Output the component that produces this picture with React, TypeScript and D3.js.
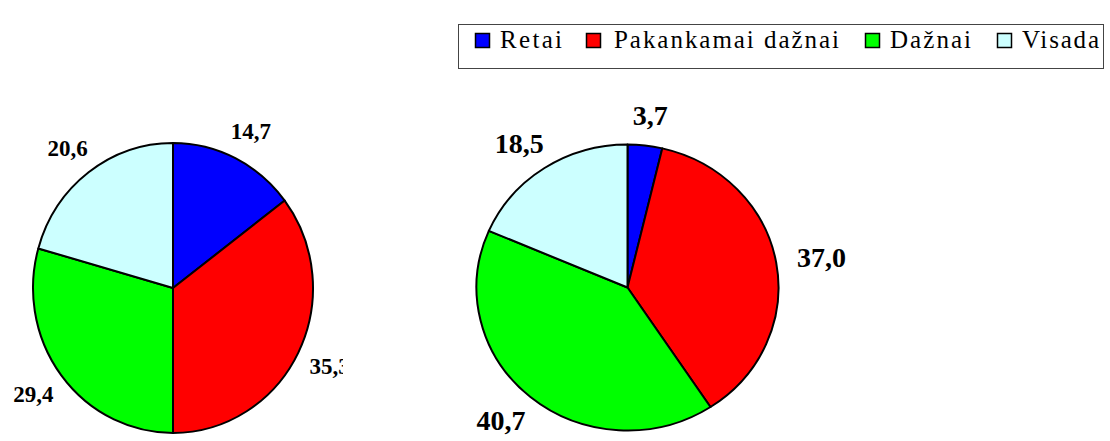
import React from "react";
import * as d3 from "d3";

const categories = ["Retai", "Pakankamai dažnai", "Dažnai", "Visada"];
const sliceColors = ["#0000FF", "#FF0000", "#00FF00", "#CCFFFF"];
const leftValues = [14.7, 35.3, 29.4, 20.6];
const rightValues = [3.7, 37.0, 40.7, 18.5];

const fmt = (v: number) => d3.format(".1f")(v).replace(".", ",");
const serif = "Liberation Serif";

const pies = [
  { values: leftValues, cx: 173, cy: 288, rx: 140, ry: 145, gapX: 35, gapY: 31, fontSize: 23, clipRight: 343 },
  { values: rightValues, cx: 627.5, cy: 287.5, rx: 151, ry: 143, gapX: 46, gapY: 30, fontSize: 28, clipRight: 1110 },
];

// legend layout: square x, text x, text width
const legendLayout = [
  { sq: 475, tx: 500, tw: 62 },
  { sq: 586, tx: 614, tw: 225 },
  { sq: 865, tx: 890, tw: 81 },
  { sq: 997, tx: 1022, tw: 77 },
];

const pie = d3.pie<number>().sort(null).value((d) => d);

const App: React.FC = () => {
  return (
    <svg
      width={1110}
      height={441}
      style={{ position: "absolute", left: 0, top: 0, background: "#fff" }}
    >
      {pies.map((p, pi) => {
        const arc = d3.arc<d3.PieArcDatum<number>>().innerRadius(0).outerRadius(p.rx);
        const arcs = pie(p.values);
        return (
          <g key={pi} clipPath={`url(#clip-${pi})`}>
            <clipPath id={`clip-${pi}`}>
              <rect x={0} y={0} width={p.clipRight} height={441} />
            </clipPath>
            <g transform={`translate(${p.cx},${p.cy}) scale(1,${p.ry / p.rx})`}>
              {arcs.map((a, i) => (
                <path
                  key={i}
                  d={arc(a) ?? ""}
                  fill={sliceColors[i]}
                  stroke="#000"
                  strokeWidth={2}
                  strokeLinejoin="round"
                  vectorEffect="non-scaling-stroke"
                />
              ))}
            </g>
            <g transform={`translate(${p.cx},${p.cy})`}>
              {arcs.map((a, i) => {
                const mid = (a.startAngle + a.endAngle) / 2;
                return (
                  <text
                    key={i}
                    x={Math.sin(mid) * (p.rx + p.gapX)}
                    y={-Math.cos(mid) * (p.ry + p.gapY)}
                    dy="0.35em"
                    textAnchor="middle"
                    fontFamily={serif}
                    fontWeight="bold"
                    fontSize={p.fontSize}
                    fill="#000"
                  >
                    {fmt(a.data)}
                  </text>
                );
              })}
            </g>
          </g>
        );
      })}

      <g>
        <rect x={458.5} y={24.5} width={645} height={44} fill="#fff" stroke="#444" strokeWidth={1} />
        {categories.map((c, i) => (
          <g key={c}>
            <rect
              x={legendLayout[i].sq + 0.5}
              y={33.5}
              width={14}
              height={14}
              fill={sliceColors[i]}
              stroke="#000"
              strokeWidth={1.5}
            />
            <text
              x={legendLayout[i].tx}
              y={48}
              fontFamily={serif}
              fontSize={25}
              textLength={legendLayout[i].tw}
              lengthAdjust="spacing"
              fill="#000"
            >
              {c}
            </text>
          </g>
        ))}
      </g>
    </svg>
  );
};

export default App;
